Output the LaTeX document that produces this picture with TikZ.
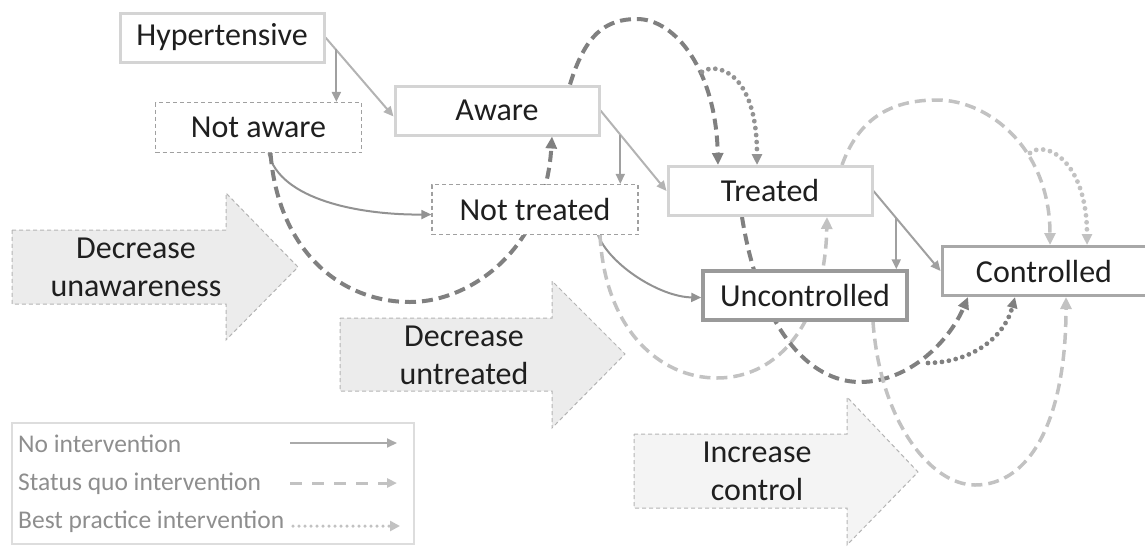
\documentclass[tikz,border=0pt]{standalone}
\usepackage{fontspec}
\setmainfont{Carlito}
\usetikzlibrary{arrows.meta,calc}

\definecolor{boxlight}{HTML}{D4D4D4}
\definecolor{boxmid}{HTML}{A8A8A8}
\definecolor{boxdark}{HTML}{9A9A9A}
\definecolor{boxdash}{HTML}{A0A0A0}
\definecolor{solidgrey}{HTML}{A0A0A0}
\definecolor{darkdash}{HTML}{808080}
\definecolor{lightdash}{HTML}{C2C2C2}
\definecolor{armfill}{HTML}{ECECEC}
\definecolor{armline}{HTML}{B4B4B4}
\definecolor{legtextgrey}{HTML}{8E8E8E}

\pgfdeclarelayer{back}
\pgfdeclarelayer{links}
\pgfsetlayers{back,links,main}

\tikzset{
  state/.style={draw=boxlight, line width=3pt, fill=white, inner sep=0pt,
    minimum width=204pt, minimum height=49pt, text=black!88,
    font=\fontsize{32}{38}\selectfont},
  notstate/.style={state, draw=boxdash, line width=1.2pt, dash pattern=on 4pt off 3pt,
    minimum width=206pt, minimum height=50pt},
  noint/.style={draw=solidgrey, line width=2pt, -{Triangle[length=10pt,width=9pt]}},
  quodark/.style={draw=darkdash, line width=4pt, dash pattern=on 11pt off 6pt,
    -{Triangle[length=12pt,width=11pt]}},
  quolight/.style={quodark, draw=lightdash, line width=3.5pt},
  bestdark/.style={draw=darkdash, line width=4.8pt, line cap=round,
    dash pattern=on 0pt off 7pt, -{Triangle[length=11pt,width=10pt]}},
  bestlight/.style={bestdark, draw=lightdash},
  bigarrow/.style={fill=armfill, draw=armline, line width=1pt, dash pattern=on 4pt off 3pt},
  armtext/.style={align=center, text=black!88, font=\fontsize{32}{38}\selectfont},
  legtext/.style={anchor=base west, text=legtextgrey, inner sep=0pt,
    font=\fontsize{25.5}{29}\selectfont},
}

\begin{document}
\begin{tikzpicture}[x=1pt, y=-1pt]
\useasboundingbox (0,0) rectangle (1145,547);

% care cascade states
\node[state] (hyp) at (222,37.5) {Hypertensive};
\node[notstate] (naware) at (258.5,127.5) {Not aware};
\node[state] (aware) at (497,110.5) {Aware};
\node[notstate] (ntreated) at (535,209.5) {Not treated};
\node[state] (treated) at (770,191) {Treated};
\node[state, draw=boxdark, line width=3.5pt] (unctrl) at (805,295.5) {Uncontrolled};
\node[state, draw=boxmid] (ctrl) at (1044,271) {Controlled};

% intervention targets
\begin{pgfonlayer}{back}
\draw[bigarrow] (12,230) -- (226,230) -- (226,193) -- (298,267) -- (226,340) -- (226,304) -- (12,304) -- cycle;
\draw[bigarrow] (340,318) -- (552,318) -- (552,281) -- (625,354) -- (552,428) -- (552,391) -- (340,391) -- cycle;
\draw[bigarrow, fill=armfill!60] (634,434) -- (847,434) -- (847,397) -- (918,472) -- (847,545) -- (847,508) -- (634,508) -- cycle;
\end{pgfonlayer}
\node[armtext] (unaware) at (136,267) {Decrease\\unawareness};
\node[armtext] (untreated) at (464,355) {Decrease\\untreated};
\node[armtext] (incctrl) at (757,471) {Increase\\control};

\begin{pgfonlayer}{links}
% no intervention
\coordinate (b1) at ($(hyp.east)!0.16!(aware.west)$);
\coordinate (b2) at ($(aware.east)!0.30!(treated.west)$);
\coordinate (b3) at ($(treated.east)!0.34!(ctrl.west)$);
\draw[noint, draw=solidgrey!80] (hyp.east) -- ([yshift=-6pt]aware.west);
\draw[noint] (b1) -- (b1 |- naware.north);
\draw[noint, draw=solidgrey!80] (aware.east) -- (treated.west);
\draw[noint] (b2) -- (b2 |- ntreated.north);
\draw[noint] (treated.east) -- (ctrl.west);
\draw[noint] (b3) -- (b3 |- unctrl.north);
\draw[noint, draw=solidgrey!115] ([xshift=10pt]naware.south) .. controls (280,200) and (360,215) .. ([yshift=-5pt]ntreated.west);
\draw[noint, draw=solidgrey!115] ([xshift=63pt]ntreated.south) .. controls (610,265) and (660,297) .. ([yshift=-2pt]unctrl.west);

% status quo
\draw[quodark] ([xshift=12pt]naware.south) .. controls (278,250) and (340,302) .. (410,302)
  .. controls (470,302) and (545,250) .. (aware.south -| 552,0);
\draw[quodark] ([xshift=73pt]aware.north) .. controls (585,35) and (605,19) .. (637,19)
  .. controls (675,19) and (716,70) .. ([xshift=-52pt]treated.north);
\draw[quolight] ([xshift=65pt]ntreated.south) .. controls (605,330) and (660,378) .. (717,378)
  .. controls (780,378) and (825,320) .. ([xshift=57pt]treated.south);
\draw[quodark] ([xshift=-28pt]treated.south) .. controls (760,330) and (810,382) .. (860,382)
  .. controls (910,382) and (950,340) .. ([xshift=-76pt]ctrl.south);
\draw[quolight] ([xshift=72pt]treated.north) .. controls (860,115) and (895,100) .. (937,100)
  .. controls (990,100) and (1050,150) .. ([xshift=6pt]ctrl.north);
\draw[quolight] ([xshift=68pt]unctrl.south) .. controls (880,420) and (930,485) .. (975,485)
  .. controls (1030,485) and (1066,420) .. ([xshift=22pt]ctrl.south);

% best practice
\coordinate (bp1) at (702,72);
\coordinate (bp2) at (928,363);
\coordinate (bp3) at (1030,153);
\draw[bestdark, draw=darkdash!85] (bp1) .. controls (715,62) and (757,70) .. ([xshift=-13pt]treated.north);
\draw[bestdark] (bp2) .. controls (975,362) and (1005,335) .. ([xshift=-29pt]ctrl.south);
\draw[bestlight] (bp3) .. controls (1045,140) and (1087,160) .. ([xshift=43pt]ctrl.north);
\end{pgfonlayer}

% legend
\node[draw=boxlight!80, line width=1.2pt, minimum width=402pt, minimum height=121pt, inner sep=0pt] (legend) at (213,483.5) {};
\node[legtext] (lnone) at (18,452) {No intervention};
\node[legtext] (lquo) at (18,490) {Status quo intervention};
\node[legtext] (lbest) at (18,528) {Best practice intervention};
\coordinate (l1a) at (290,443); \coordinate (l1b) at (397,443);
\coordinate (l2a) at (290,483); \coordinate (l2b) at (397,483);
\coordinate (l3a) at (293,526); \coordinate (l3b) at (400,526);
\draw[noint, draw=solidgrey!90, line width=1.8pt] (l1a) -- (l1b);
\draw[quolight, line width=3pt, dash pattern=on 12pt off 10pt, -{Triangle[length=10pt,width=9pt]}] (l2a) -- (l2b);
\draw[bestlight, line width=3.5pt, dash pattern=on 0pt off 6pt, -{Triangle[length=10pt,width=10pt]}] (l3a) -- (l3b);
\end{tikzpicture}
\end{document}
